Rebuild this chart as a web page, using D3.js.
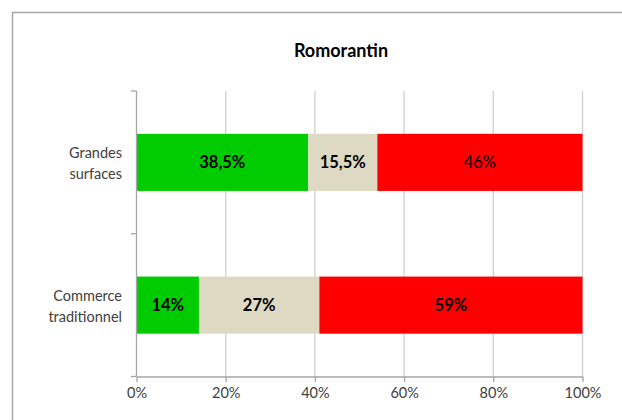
<!DOCTYPE html>
<html>
<head>
<meta charset="utf-8">
<script src="https://cdn.jsdelivr.net/npm/d3@7"></script>
<style>
html,body{margin:0;padding:0;background:#fff;}
svg{display:block;}
text{font-family:Lato,"Open Sans",sans-serif;}
</style>
</head>
<body>
<svg id="chart" width="622" height="420"></svg>
<script>
const title = "Romorantin";
const categories = [["Grandes","surfaces"],["Commerce","traditionnel"]];
const seriesNames = ["vert","beige","rouge"];
const greenValues = [38.5, 14];
const beigeValues = [15.5, 27];
const redValues = [46, 59];
const greenLabels = ["38,5%","14%"];
const beigeLabels = ["15,5%","27%"];
const redLabels = ["46%","59%"];
const xTicks = [0,20,40,60,80,100];
const xTickLabels = ["0%","20%","40%","60%","80%","100%"];

const colors = {vert:"#00cc00", beige:"#ddd9c3", rouge:"#ff0000"};
const labelWeights = [["bold","bold"],["bold","bold"],["normal","bold"]];

const svg = d3.select("#chart");
// outer frame
svg.append("path").attr("d","M12.5,420 V12.5 H622").attr("fill","none").attr("stroke","#a6a6a6").attr("stroke-width",1.5);

const pLeft = 136.5, pRight = 582.5, pTop = 91, pBottom = 376.5;
const x = d3.scaleLinear().domain([0,100]).range([pLeft,pRight]);
const y = d3.scaleBand().domain(d3.range(categories.length)).range([pTop,pBottom]).paddingInner(0.6).paddingOuter(0.3);

// gridlines
svg.append("g").selectAll("line").data(xTicks.slice(1)).join("line")
  .attr("x1",d=>x(d)).attr("x2",d=>x(d)).attr("y1",pTop).attr("y2",pBottom)
  .attr("stroke","#d0d0d0").attr("stroke-width",1.3);

// title
svg.append("text").attr("x",341).attr("y",57).attr("text-anchor","middle")
  .attr("font-size",18).attr("font-weight","bold").attr("fill","#000").text(title);

// stacked data
const series = [greenValues, beigeValues, redValues];
const labels = [greenLabels, beigeLabels, redLabels];
const rows = categories.map((c,i)=>{
  let acc = 0;
  return series.map((s,k)=>{const r={i,k,x0:acc,x1:acc+s[i],label:labels[k][i]}; acc+=s[i]; return r;});
});
const segs = rows.flat();

svg.append("g").selectAll("rect").data(segs).join("rect")
  .attr("x",d=>x(d.x0)).attr("width",d=>x(d.x1)-x(d.x0))
  .attr("y",d=>y(d.i)).attr("height",y.bandwidth())
  .attr("fill",d=>colors[seriesNames[d.k]]);

svg.append("g").selectAll("text").data(segs).join("text")
  .attr("x",d=>(x(d.x0)+x(d.x1))/2).attr("y",d=>y(d.i)+y.bandwidth()/2+6)
  .attr("text-anchor","middle").attr("font-size",16.5)
  .attr("font-weight",d=>labelWeights[d.k][d.i]).attr("fill","#000")
  .text(d=>d.label);

// y axis
const axisColor = "#a6a6a6";
svg.append("line").attr("x1",pLeft).attr("x2",pLeft).attr("y1",pTop).attr("y2",pBottom).attr("stroke",axisColor).attr("stroke-width",1.3);
const yTickPos = [pTop, (y(0)+y.bandwidth()+y(1))/2, pBottom];
svg.append("g").selectAll("line").data(yTickPos).join("line")
  .attr("x1",pLeft-5.5).attr("x2",pLeft).attr("y1",d=>d).attr("y2",d=>d)
  .attr("stroke",axisColor).attr("stroke-width",1.3);

// x axis
const xAxis = d3.axisBottom(x).tickValues(xTicks).tickFormat((d,i)=>xTickLabels[i]).tickSize(5.5).tickSizeOuter(0);
const gx = svg.append("g").attr("transform",`translate(0,${pBottom})`).call(xAxis);
gx.select(".domain").attr("stroke",axisColor).attr("stroke-width",1.3);
gx.selectAll(".tick line").attr("stroke",axisColor).attr("stroke-width",1.3);
gx.selectAll(".tick text").attr("font-size",14.5).attr("fill","#404040").attr("dy",0).attr("y",21)
  .attr("font-family",'Lato,"Open Sans",sans-serif');

// category labels
const catG = svg.append("g");
categories.forEach((lines,i)=>{
  const cy = y(i)+y.bandwidth()/2;
  const t = catG.append("text").attr("text-anchor","end").attr("font-size",14.5).attr("fill","#404040");
  lines.forEach((ln,j)=>{
    t.append("tspan").attr("x",122).attr("y",cy-4.5+j*21.5).text(ln);
  });
});
</script>
</body>
</html>
